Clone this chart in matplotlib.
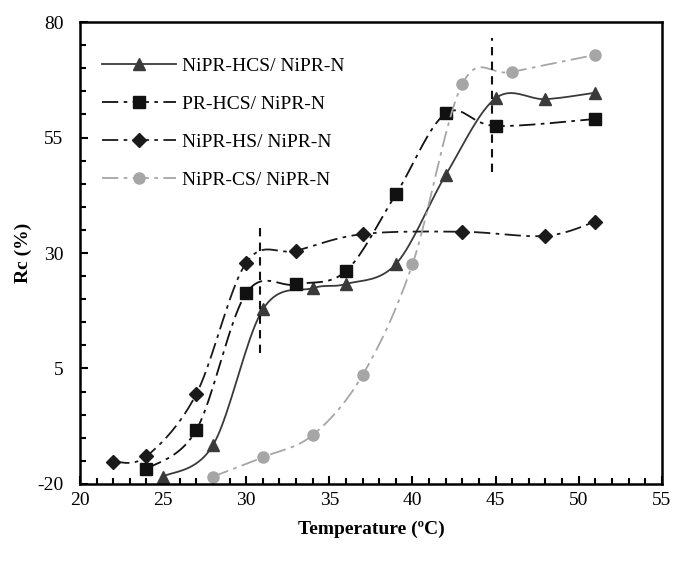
import matplotlib
matplotlib.use('Agg')

import numpy as np
import matplotlib.pyplot as plt
from matplotlib.lines import Line2D

# data
t_hcs = [25, 28, 31, 34, 36, 39, 42, 45, 48, 51]
rc_hcs = [-18.4, -11.6, 17.8, 22.4, 23.3, 27.6, 46.9, 63.5, 63.3, 64.7]

t_pr = [24, 27, 30, 33, 36, 39, 42, 45, 51]
rc_pr = [-16.8, -8.3, 21.3, 23.2, 26.1, 42.7, 60.2, 57.5, 59.0]

t_hs = [22, 24, 27, 30, 33, 37, 43, 48, 51]
rc_hs = [-15.2, -14.0, -0.5, 27.9, 30.5, 34.1, 34.6, 33.7, 36.8]

t_cs = [28, 31, 34, 37, 40, 43, 46, 51]
rc_cs = [-18.4, -14.2, -9.4, 3.6, 27.6, 66.6, 69.2, 72.9]

labels = ['NiPR-HCS/ NiPR-N', 'PR-HCS/ NiPR-N', 'NiPR-HS/ NiPR-N', 'NiPR-CS/ NiPR-N']

# vertical marker lines (temperature, y from, y to)
vlines = [(30.85, 8.3, 36.8), (44.8, 47.6, 76.5)]

plt.rcParams['font.family'] = ['Liberation Serif', 'DejaVu Serif']
plt.rcParams['axes.unicode_minus'] = False


def smooth(x, y, n=20):
    # Catmull-Rom curve through the points, like Excel's smoothed line
    x = np.asarray(x, float) / 35.0
    y = np.asarray(y, float) / 100.0
    px = np.concatenate([[x[0]], x, [x[-1]]])
    py = np.concatenate([[y[0]], y, [y[-1]]])
    xs, ys = [], []
    s = np.linspace(0, 1, n)
    for i in range(1, len(px) - 2):
        p0, p1, p2, p3 = [np.array([px[j], py[j]]) for j in (i - 1, i, i + 1, i + 2)]
        for u in s:
            pt = 0.5 * ((2 * p1) + (-p0 + p2) * u + (2 * p0 - 5 * p1 + 4 * p2 - p3) * u ** 2
                        + (-p0 + 3 * p1 - 3 * p2 + p3) * u ** 3)
            xs.append(pt[0])
            ys.append(pt[1])
    return np.array(xs) * 35.0, np.array(ys) * 100.0


fig = plt.figure(figsize=(6.75, 5.65), dpi=100)
ax = fig.add_axes([0.1185, 0.1434, 0.862, 0.8176])

dashdot = (0, (9, 3, 2, 3))
series = [
    (t_hcs, rc_hcs, '^', '#3a3a3a', '-', 9),
    (t_pr, rc_pr, 's', '#111111', dashdot, 8),
    (t_hs, rc_hs, 'D', '#1a1a1a', dashdot, 7),
    (t_cs, rc_cs, 'o', '#a6a6a6', dashdot, 8),
]

handles = []
for (x, y, m, c, ls, ms), lab in zip(series, labels):
    sx, sy = smooth(x, y)
    ax.plot(sx, sy, color=c, linestyle=ls, linewidth=1.3)
    ax.plot(x, y, linestyle='none', marker=m, color=c, markersize=ms)
    handles.append(Line2D([], [], color=c, linestyle=ls, linewidth=1.3,
                          marker=m, markersize=ms))

for xv, y0, y1 in vlines:
    ax.plot([xv, xv], [y0, y1], color='#111111', linestyle=(0, (4, 3)), linewidth=1.5)

ax.set_xlim(20, 55)
ax.set_ylim(-20, 80)
ax.set_xticks(np.arange(20, 56, 5))
ax.set_xticks(np.arange(20, 56, 1), minor=True)
ax.set_yticks(np.arange(-20, 81, 25))
ax.set_yticks(np.arange(-20, 81, 5), minor=True)
ax.tick_params(which='both', direction='in', top=False, right=False, labelsize=14, width=1.5)
ax.tick_params(which='major', length=6)
ax.tick_params(axis='y', which='major', pad=12)
ax.tick_params(axis='x', which='major', pad=6)
ax.tick_params(which='minor', length=4)
for sp in ax.spines.values():
    sp.set_linewidth(1.8)

ax.set_xlabel('Temperature (ºC)', fontsize=14, fontweight='bold', labelpad=8)
ax.set_ylabel('Rc (%)', fontsize=14, fontweight='bold', labelpad=4)

ax.legend(handles, labels, loc='upper left', bbox_to_anchor=(0.025, 0.94), frameon=False,
          fontsize=14, handlelength=3.8, labelspacing=1.05, handletextpad=0.3,
          borderaxespad=0)

plt.savefig('out.png', dpi=100)
